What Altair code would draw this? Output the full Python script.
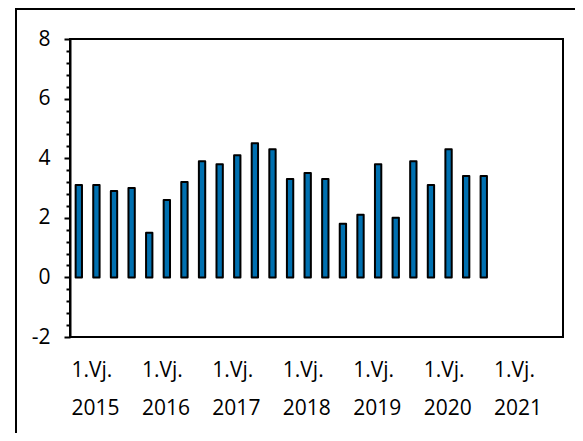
import altair as alt
import pandas as pd

# quarterly values 2015 Q1 .. 2020 Q4
values = [3.1, 3.1, 2.9, 3.0,
          1.5, 2.6, 3.2, 3.9,
          3.8, 4.1, 4.5, 4.3,
          3.3, 3.5, 3.3, 1.8,
          2.1, 3.8, 2.0, 3.9,
          3.1, 4.3, 3.4, 3.4]
years = ["2015", "2016", "2017", "2018", "2019", "2020", "2021"]
quarter_label = "1.Vj."
n_slots = 4 * len(years)

df = pd.DataFrame({
    "i": list(range(len(values))),
    "v": values,
})
df["x0"] = df["i"] + 0.32
df["x1"] = df["i"] + 0.68
df["zero"] = 0.0

FONT = "Open Sans"
FS = 21
years_js = "[" + ",".join("'%s'" % y for y in years) + "]"

y_ticks = [round(-2 + 0.4 * k, 1) for k in range(26)]
major_test = "abs(datum.value % 2) < 0.001 || abs(datum.value % 2) > 1.999"

x_enc = alt.X(
    "x0:Q",
    scale=alt.Scale(domain=[0, n_slots], nice=False, zero=False),
    axis=alt.Axis(
        values=[4 * k for k in range(len(years))],
        labelExpr="['%s', %s[round(datum.value / 4)]]" % (quarter_label, years_js),
        ticks=False, domain=False, grid=False, title=None,
        labelAlign="left", labelBaseline="top", labelOffset=1,
        labelPadding=22, labelLineHeight=38,
        labelFont=FONT, labelFontSize=FS, labelColor="black",
        labelFlush=False, labelOverlap=False, labelBound=False,
    ),
)
y_enc = alt.Y(
    "v:Q",
    scale=alt.Scale(domain=[-2, 8], nice=False, zero=False),
    axis=alt.Axis(
        values=y_ticks,
        labelExpr="(" + major_test + ") ? toString(round(datum.value)) : ''",
        tickSize={"condition": {"test": major_test, "value": 6}, "value": 4},
        tickWidth=2, tickColor="black",
        domainWidth=2, domainColor="black",
        grid=False, title=None,
        labelPadding=14, labelFont=FONT, labelFontSize=FS, labelColor="black",
        labelOverlap=False,
    ),
)

bars = alt.Chart(df).mark_bar(
    fill="#0070B0", stroke="black", strokeWidth=2, strokeJoin="round"
).encode(
    x=x_enc,
    x2="x1:Q",
    y=y_enc,
    y2="zero:Q",
)

frame = alt.Chart(pd.DataFrame({"a": [0]})).mark_rect(
    fill=None, fillOpacity=0, stroke="black", strokeWidth=2, clip=False
).encode(
    x=alt.value(-54), x2=alt.value(700),
    y=alt.value(-30), y2=alt.value(600),
)

chart = alt.layer(bars, frame).properties(
    width=493, height=298,
    autosize=alt.AutoSizeParams(type="none"),
    padding={"left": 62, "top": 31, "right": 12, "bottom": 96},
).configure_view(
    stroke="black", strokeWidth=2
)

chart.save("out.html", embed_options={"renderer": "svg", "actions": False})
